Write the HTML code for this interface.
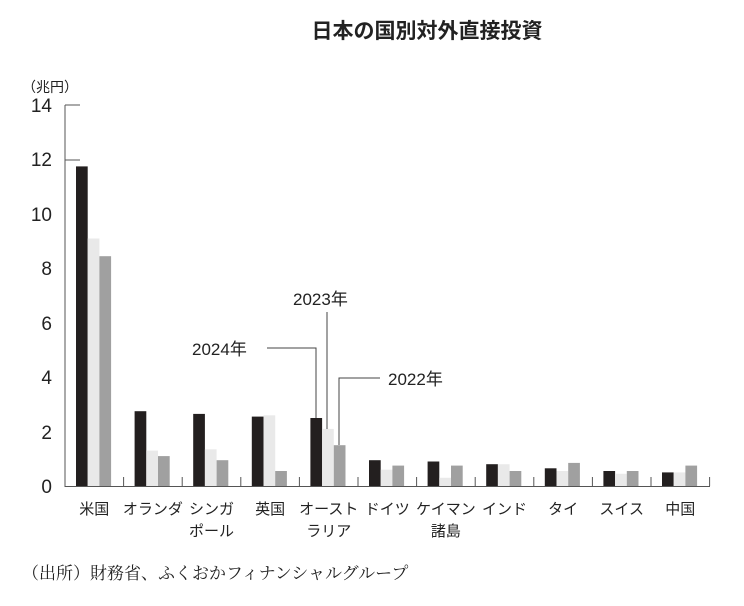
<!DOCTYPE html><html><head><meta charset="utf-8"><style>
body{margin:0;background:#fff;width:744px;height:601px;overflow:hidden}
text{font-family:"Liberation Sans","Noto Sans CJK JP",sans-serif;fill:#222}
.a{fill:#231f1f}.b{fill:#e9e9e9}.c{fill:#a0a0a0}
</style></head><body>
<svg width="744" height="601" xmlns="http://www.w3.org/2000/svg">
<text x="427" y="38" font-size="21" font-weight="bold" text-anchor="middle">日本の国別対外直接投資</text>
<text x="22" y="92" font-size="14">（兆円）</text>
<g font-size="19" text-anchor="end">
<text x="52" y="493">0</text><text x="52" y="439">2</text><text x="52" y="384">4</text><text x="52" y="330">6</text><text x="52" y="275">8</text><text x="52" y="221">10</text><text x="52" y="166">12</text><text x="52" y="112">14</text>
</g>
<g transform="translate(0,486)">
<g transform="translate(65,0)"><rect class="a" x="11" y="-319.6" width="11.7" height="319.6"/><rect class="b" x="22.7" y="-247.5" width="11.7" height="247.5"/><rect class="c" x="34.4" y="-229.8" width="11.7" height="229.8"/></g>
<g transform="translate(123.6,0)"><rect class="a" x="11" y="-74.8" width="11.7" height="74.8"/><rect class="b" x="22.7" y="-35.4" width="11.7" height="35.4"/><rect class="c" x="34.4" y="-29.9" width="11.7" height="29.9"/></g>
<g transform="translate(182.2,0)"><rect class="a" x="11" y="-72.1" width="11.7" height="72.1"/><rect class="b" x="22.7" y="-36.7" width="11.7" height="36.7"/><rect class="c" x="34.4" y="-25.8" width="11.7" height="25.8"/></g>
<g transform="translate(240.8,0)"><rect class="a" x="11" y="-69.4" width="11.7" height="69.4"/><rect class="b" x="22.7" y="-70.7" width="11.7" height="70.7"/><rect class="c" x="34.4" y="-15" width="11.7" height="15"/></g>
<g transform="translate(299.4,0)"><rect class="a" x="11" y="-68" width="11.7" height="68"/><rect class="b" x="22.7" y="-57.1" width="11.7" height="57.1"/><rect class="c" x="34.4" y="-40.8" width="11.7" height="40.8"/></g>
<g transform="translate(358,0)"><rect class="a" x="11" y="-25.8" width="11.7" height="25.8"/><rect class="b" x="22.7" y="-16.3" width="11.7" height="16.3"/><rect class="c" x="34.4" y="-20.4" width="11.7" height="20.4"/></g>
<g transform="translate(416.6,0)"><rect class="a" x="11" y="-24.5" width="11.7" height="24.5"/><rect class="b" x="22.7" y="-8.2" width="11.7" height="8.2"/><rect class="c" x="34.4" y="-20.4" width="11.7" height="20.4"/></g>
<g transform="translate(475.2,0)"><rect class="a" x="11" y="-21.8" width="11.7" height="21.8"/><rect class="b" x="22.7" y="-21.8" width="11.7" height="21.8"/><rect class="c" x="34.4" y="-15" width="11.7" height="15"/></g>
<g transform="translate(533.8,0)"><rect class="a" x="11" y="-17.7" width="11.7" height="17.7"/><rect class="b" x="22.7" y="-15" width="11.7" height="15"/><rect class="c" x="34.4" y="-23.1" width="11.7" height="23.1"/></g>
<g transform="translate(592.4,0)"><rect class="a" x="11" y="-15" width="11.7" height="15"/><rect class="b" x="22.7" y="-12.2" width="11.7" height="12.2"/><rect class="c" x="34.4" y="-15" width="11.7" height="15"/></g>
<g transform="translate(651,0)"><rect class="a" x="11" y="-13.6" width="11.7" height="13.6"/><rect class="b" x="22.7" y="-13.6" width="11.7" height="13.6"/><rect class="c" x="34.4" y="-20.4" width="11.7" height="20.4"/></g>
</g>
<g stroke="#555" stroke-width="1">
<line x1="65" y1="105" x2="65" y2="487"/><line x1="65" y1="486.5" x2="710" y2="486.5"/>
<line x1="65" y1="105" x2="80" y2="105"/><line x1="65" y1="160" x2="80" y2="160"/>
<line x1="123.6" y1="477" x2="123.6" y2="486"/><line x1="182.2" y1="477" x2="182.2" y2="486"/><line x1="240.8" y1="477" x2="240.8" y2="486"/><line x1="299.4" y1="477" x2="299.4" y2="486"/><line x1="358" y1="477" x2="358" y2="486"/><line x1="416.6" y1="477" x2="416.6" y2="486"/><line x1="475.2" y1="477" x2="475.2" y2="486"/><line x1="533.8" y1="477" x2="533.8" y2="486"/><line x1="592.4" y1="477" x2="592.4" y2="486"/><line x1="651" y1="477" x2="651" y2="486"/><line x1="709.6" y1="477" x2="709.6" y2="486"/>
</g>
<g stroke="#444" stroke-width="1" fill="none">
<polyline points="267,348 316,348 316,418"/>
<line x1="327" y1="312" x2="327" y2="429"/>
<polyline points="380,378 339,378 339,445"/>
</g>
<g font-size="17"><text x="192" y="355">2024年</text><text x="293" y="305">2023年</text><text x="388" y="385">2022年</text></g>
<g font-size="15" text-anchor="middle">
<text x="94.3" y="514">米国</text><text x="152.9" y="514">オランダ</text><text x="211.5" y="514">シンガ</text><text x="211.5" y="536">ポール</text><text x="270.1" y="514">英国</text><text x="328.7" y="514">オースト</text><text x="328.7" y="536">ラリア</text><text x="387.3" y="514">ドイツ</text><text x="445.9" y="514">ケイマン</text><text x="445.9" y="536">諸島</text><text x="504.5" y="514">インド</text><text x="563.1" y="514">タイ</text><text x="621.7" y="514">スイス</text><text x="680.3" y="514">中国</text>
</g>
<text x="22" y="579" font-size="17" style="font-family:'Liberation Serif','Noto Serif CJK SC',serif">（出所）財務省、ふくおかフィナンシャルグループ</text>
</svg></body></html>
